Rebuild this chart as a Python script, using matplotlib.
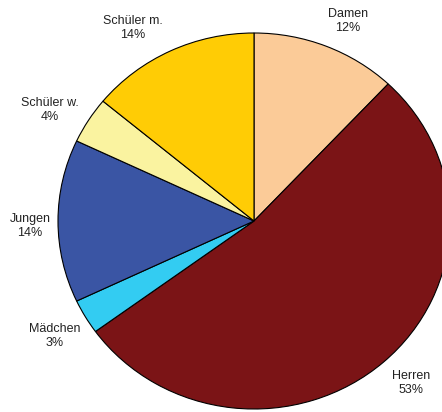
import matplotlib.pyplot as plt

# Share of members per group, clockwise from 12 o'clock
groups = ["Damen", "Herren", "Mädchen", "Jungen", "Schüler w.", "Schüler m."]
shares = [12, 53, 3, 14, 4, 14]
colors = ["#FBCB98", "#7B1416", "#33CCF2", "#3A55A4", "#FAF3A0", "#FFCC05"]

# label anchors in pixels from the top-left corner
label_xy = [(348, 21), (411, 383), (55, 336), (30, 226), (50, 110), (133, 28)]

W, H = 442, 412
fig = plt.figure(figsize=(W / 100, H / 100), dpi=100)
ax = fig.add_axes([0, 0, 1, 1])

ax.pie(
    shares,
    colors=colors,
    startangle=90,
    counterclock=False,
    wedgeprops=dict(edgecolor="black", linewidth=0.8),
)

# slightly wider than tall, and cropped on the right/bottom
ax.set_aspect("auto")
ax.set_xlim(-254 / 196, (W - 254) / 196)
ax.set_ylim(-(H - 221) / 188, 221 / 188)
ax.axis("off")

for g, s, (x, y) in zip(groups, shares, label_xy):
    fig.text(x / W, 1 - y / H, f"{g}\n{s}%", ha="center", va="center",
             multialignment="center", fontsize=9, color="#222222",
             family="Liberation Sans", linespacing=1.15)

fig.savefig("out.png", dpi=100)
plt.close(fig)
